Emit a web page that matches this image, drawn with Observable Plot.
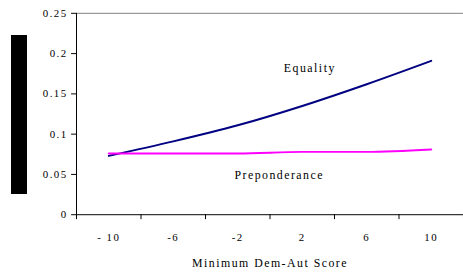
<!DOCTYPE html>
<html><head><meta charset="utf-8">
<script src="https://cdn.jsdelivr.net/npm/d3@7"></script>
<script src="https://cdn.jsdelivr.net/npm/@observablehq/plot@0.6"></script>
<style>
html,body{margin:0;padding:0;background:#fff;overflow:hidden;width:463px;height:280px;}
#chart{position:relative;width:463px;height:280px;overflow:hidden;}
#ylab{position:absolute;left:11px;top:35px;width:16px;height:159px;background:#000;}
#chart svg{position:absolute;left:0;top:0;}
#chart svg text{letter-spacing:1.5px;font-family:"Liberation Serif","DejaVu Serif",serif !important;}
</style></head><body><div id="chart"><div id="ylab"></div></div>
<script>
const scores = [-10, -6, -2, 2, 6, 10];
const scoreLabels = ["- 10", "-6", "-2", "2", "6", "10"];
const equality = [0.073, 0.091, 0.111, 0.135, 0.162, 0.191];
const preponderance = [0.076, 0.076, 0.076, 0.078, 0.078, 0.081];
const seriesNames = ["Equality", "Preponderance"];
const seriesColors = ["#000080", "#ff00ff"];
const yTicks = [0, 0.05, 0.1, 0.15, 0.2, 0.25];
const categoryEdges = [-12, -8, -4, 0, 4, 8, 12];
const xTitle = "Minimum Dem-Aut Score";
// label anchor positions in data units
const labelX = [2.47, 0.57];
const labelY = [0.182, 0.049];

const rows = scores.flatMap((s, i) => [
  {score: s, value: equality[i], series: seriesNames[0]},
  {score: s, value: preponderance[i], series: seriesNames[1]}
]);

const plot = Plot.plot({
  width: 469, height: 280,
  marginLeft: 77, marginRight: 0, marginTop: 13, marginBottom: 63,
  style: {fontFamily: "'Liberation Serif', 'DejaVu Serif', serif", fontSize: "11px", color: "#000", background: "transparent"},
  x: {domain: [-12, 12]},
  y: {domain: [0, 0.25]},
  color: {domain: seriesNames, range: seriesColors},
  marks: [
    Plot.ruleY([0.25], {stroke: "#808080"}),
    Plot.axisY({ticks: yTicks, tickSize: 5, tickPadding: 4, label: null, fontSize: 11, tickFormat: (d) => `${d}`}),
    Plot.axisX({ticks: categoryEdges, tickSize: 5, tickFormat: () => "", label: null}),
    Plot.axisX({ticks: scores, tickSize: 0, tickPadding: 19, label: null, fontSize: 11,
      tickFormat: (d) => scoreLabels[scores.indexOf(d)]}),
    Plot.ruleX([-12], {stroke: "#000"}),
    Plot.ruleY([0], {stroke: "#000"}),
    Plot.line(rows, {x: "score", y: "value", z: "series", stroke: "series", strokeWidth: 2, curve: "monotone-x"}),
    Plot.text(seriesNames, {x: labelX, y: labelY, text: (d) => d, fontSize: 12, fill: "#000"}),
    Plot.text([xTitle], {frameAnchor: "bottom", dy: 53, fontSize: 12, fill: "#000"})
  ]
});
document.getElementById("chart").appendChild(plot);
</script></body></html>
